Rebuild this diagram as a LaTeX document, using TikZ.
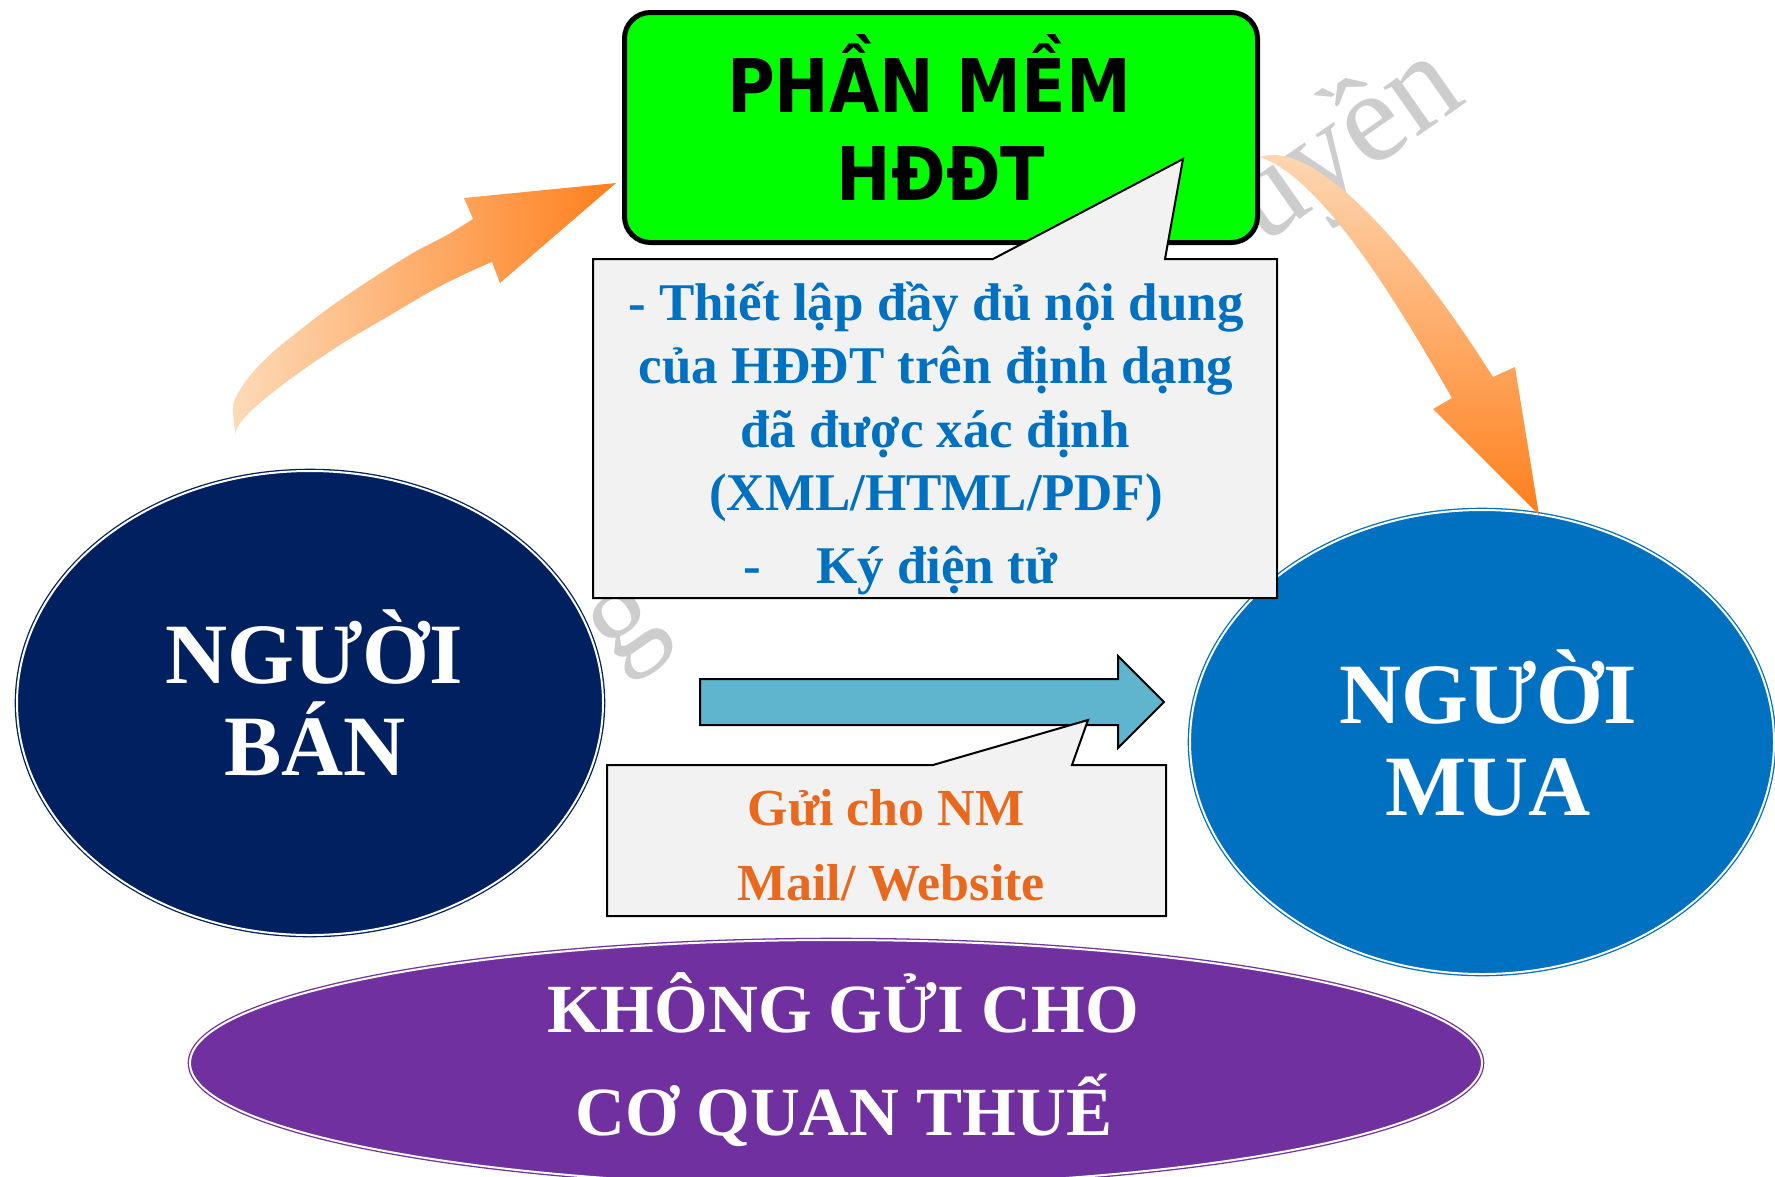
\documentclass[tikz,border=0pt]{standalone}
\usepackage{fontspec}
\setmainfont{Liberation Serif}
\newfontfamily\hsans{DejaVu Sans}
\usetikzlibrary{shapes.geometric}
\definecolor{cGreen}{HTML}{00FF00}
\definecolor{cBox}{HTML}{F2F2F2}
\definecolor{cBlue}{HTML}{0070C0}
\definecolor{cNavy}{HTML}{002060}
\definecolor{cPurple}{HTML}{7030A0}
\definecolor{cTeal}{HTML}{5EB5CD}
\definecolor{cOrangeTxt}{HTML}{E8691E}
\definecolor{cOrA}{HTML}{FDDAB8}
\definecolor{cOrB}{HTML}{FF7F1C}
\definecolor{cMark}{HTML}{CDCDCD}
\tikzset{
  calloutbox/.style={fill=cBox, draw=black, line width=2pt, line join=miter},
  bluetxt/.style={font=\fontsize{53}{64}\selectfont\bfseries, text=cBlue, anchor=base, inner sep=0pt},
  orangetxt/.style={font=\fontsize{52}{62}\selectfont\bfseries, text=cOrangeTxt, anchor=base, inner sep=0pt},
  whitetxt/.style={font=\fontsize{86}{100}\selectfont\bfseries, text=white, anchor=base, inner sep=0pt},
  purpletxt/.style={font=\fontsize{69}{80}\selectfont\bfseries, text=white, anchor=base, inner sep=0pt},
  greentxt/.style={font=\hsans\fontsize{74}{88}\selectfont\bfseries, text=black, anchor=base, inner sep=0pt},
  marktxt/.style={font=\fontsize{130}{140}\selectfont, text=cMark, rotate=35, inner sep=0pt},
  bubble/.style={ellipse, line width=1.3pt, double=white, double distance=2pt, inner sep=0pt},
}
\begin{document}
\begin{tikzpicture}[x=1pt,y=-1pt]
\useasboundingbox (0,0) rectangle (1775,1176);
\fill[white] (0,0) rectangle (1775,1176);

% watermark fragments
\node[marktxt, anchor=center] (wmg) at (630,632) {g};
\node[marktxt, anchor=base west] (wmu) at (1262,246) {uyền};

% ellipses
\node[bubble, fill=cNavy, draw=cNavy, minimum width=586pt, minimum height=464pt] (ban) at (310,703) {};
\node[bubble, fill=cBlue, draw=cBlue, minimum width=584pt, minimum height=464pt] (mua) at (1482,742) {};
\node[bubble, fill=cPurple, draw=cPurple, minimum width=1292pt, minimum height=246pt] (thue) at (836,1063) {};

% left curved arrow
\shade[left color=cOrA, right color=cOrB]
  plot[smooth, tension=0.6] coordinates {(236,436) (233,407) (240,390) (253,372) (273,352) (300,330) (333,305) (373,278) (413,253) (447,235) (473,219)}
  -- (464,198) -- (616,183) -- (500,283) -- (492,262)
  -- plot[smooth, tension=0.6] coordinates {(492,262) (467,273) (433,290) (387,317) (343,343) (300,372) (267,397) (247,415) (237,428) (236,436)}
  -- cycle;

% right curved arrow
\shade[top color=cOrA, bottom color=cOrB]
  (1260,157) .. controls (1310,140) and (1400,230) .. (1493,377)
  -- (1515,367) -- (1539,515) -- (1433,409) -- (1452,398)
  .. controls (1390,290) and (1320,178) .. (1260,157)
  -- cycle;

% green box
\node[draw=black, line width=5pt, fill=cGreen, rounded corners=26pt, minimum width=633pt, minimum height=230pt, inner sep=0pt] (soft) at (941,127.5) {};

% callout 1
\path[calloutbox] (593,259) -- (993,259) -- (1183,159) -- (1165,259) -- (1277,259) -- (1277,598) -- (593,598) -- cycle;

% teal block arrow
\path[fill=cTeal, draw=black, line width=2pt, line join=miter]
  (700,679) -- (1118,679) -- (1118,656) -- (1164,702) -- (1118,748) -- (1118,725) -- (700,725) -- cycle;

% callout 2
\path[calloutbox] (607,765) -- (933,765) -- (1088,720) -- (1072,765) -- (1166,765) -- (1166,916) -- (607,916) -- cycle;

% texts
\node[greentxt] (s1) at (929,112) {\scalebox{0.88}[1]{PHẦN MỀM}};
\node[greentxt] (s2) at (941,200) {\scalebox{0.88}[1]{HĐĐT}};

\node[bluetxt] (c1) at (936,320) {- Thiết lập đầy đủ nội dung};
\node[bluetxt] (c2) at (936,383) {của HĐĐT trên định dạng};
\node[bluetxt] (c3) at (935,447) {đã được xác định};
\node[bluetxt] (c4) at (936,510) {(XML/HTML/PDF)};
\node[bluetxt] (c5) at (752,583) {-};
\node[bluetxt, anchor=base west] (c6) at (816,583) {Ký điện tử};

\node[orangetxt] (g1) at (886,825) {Gửi cho NM};
\node[orangetxt] (g2) at (891,900) {Mail/ Website};

\node[whitetxt] (b1) at (314,683) {NGƯỜI};
\node[whitetxt] (b2) at (315,775) {BÁN};
\node[whitetxt] (m1) at (1488,723) {NGƯỜI};
\node[whitetxt] (m2) at (1488,815) {MUA};

\node[purpletxt] (t1) at (843,1032) {KHÔNG GỬI CHO};
\node[purpletxt] (t2) at (844,1135) {CƠ QUAN THUẾ};
\end{tikzpicture}
\end{document}
